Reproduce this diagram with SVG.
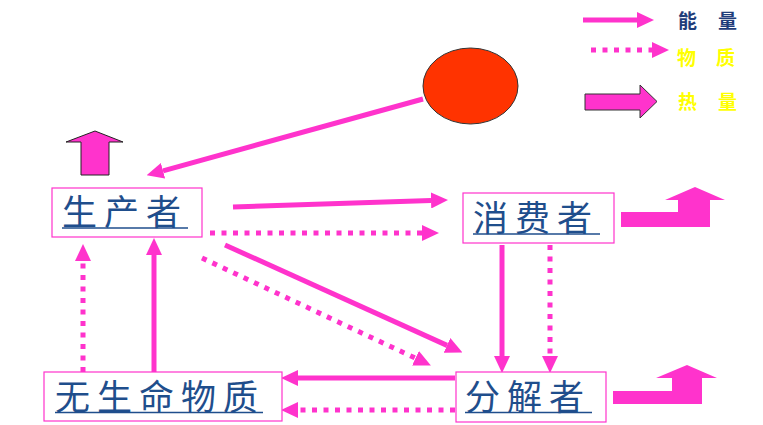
<svg xmlns="http://www.w3.org/2000/svg" width="763" height="425" viewBox="0 0 763 425">
<style>
.box{fill:#fff;stroke:#FF33CC;stroke-width:1.2}
.lbl{font-family:"Noto Sans CJK SC","Noto Sans CJK JP",sans-serif;font-size:35px;letter-spacing:7px;fill:#1F4E8C}
.ul{stroke:#1F4E8C;stroke-width:1.6}
.sol{stroke:#FF33CC;stroke-width:5;fill:none;marker-end:url(#ah)}
.dot{stroke:#FF33CC;stroke-width:5;fill:none;stroke-dasharray:5 6.5;marker-end:url(#ah)}
.blk{fill:#FF33CC}
.leg{font-family:"Noto Sans CJK SC","Noto Sans CJK JP",sans-serif;font-size:19px;font-weight:bold}
</style>
<defs>
<marker id="ah" markerUnits="userSpaceOnUse" markerWidth="17" markerHeight="16" refX="0" refY="8" orient="auto" viewBox="0 0 17 16">
<path d="M0,0L17,8L0,16z" fill="#FF33CC"/>
</marker>
</defs>
<rect width="763" height="425" fill="#fff"/>

<g id="legend">
<line x1="583" y1="20" x2="637" y2="20" class="sol"/>
<text x="678" y="28" class="leg" fill="#1F3D7A" textLength="59" lengthAdjust="spacing">能量</text>
<line x1="591" y1="50" x2="652" y2="50" class="dot" stroke-dasharray="5 7"/>
<text x="677" y="65" class="leg" fill="#FFFF00" textLength="58" lengthAdjust="spacing">物质</text>
<polygon points="585,94 640,94 640,85 657,101.5 640,118 640,110 585,110" fill="#FF33CC" stroke="#333" stroke-width="1"/>
<text x="678" y="109" class="leg" fill="#FFFF00" textLength="59" lengthAdjust="spacing">热量</text>
</g>

<g id="sun">
<ellipse cx="470.5" cy="86" rx="47.5" ry="38" fill="#FF3300" stroke="#333" stroke-width="1"/>
</g>

<g id="connectors">
<line x1="423" y1="99" x2="163" y2="170.8" class="sol"/>
<line x1="233" y1="207" x2="431" y2="200.5" class="sol"/>
<line x1="210" y1="233" x2="422" y2="233" class="dot" stroke-dasharray="5 7"/>
<line x1="225" y1="245" x2="447" y2="345.4" class="sol" stroke-width="6"/>
<line x1="202" y1="258" x2="415.5" y2="358.2" class="dot" stroke-dasharray="7 8"/>
<line x1="502" y1="245" x2="502" y2="356" class="sol" stroke-width="6"/>
<line x1="550" y1="245" x2="550" y2="356" class="dot" stroke-dasharray="5 4.5"/>
<line x1="455" y1="378" x2="298" y2="378" class="sol"/>
<line x1="455" y1="410" x2="298" y2="410" class="dot" stroke-dasharray="5 6"/>
<line x1="154" y1="372" x2="154" y2="255" class="sol" stroke-width="6"/>
<line x1="83" y1="372" x2="83" y2="261" class="dot" stroke-dasharray="5 4.5"/>
</g>

<g id="heat">
<polygon points="81,175 81,142 66,142 95,131 123,142 109,142 109,175" fill="#FF33CC" stroke="#222" stroke-width="1"/>
<polygon class="blk" points="621,212 678,212 678,200 665,200 695,187 725,200 710,200 710,227 621,227"/>
<polygon class="blk" points="613,391 672,391 672,378 656,378 687,365 717,378 702,378 702,404 613,404"/>
</g>

<g id="producer">
<rect class="box" x="52" y="188" width="150" height="49"/>
<text class="lbl" x="62" y="225">生产者</text>
<line class="ul" x1="62" y1="228" x2="188" y2="228"/>
</g>

<g id="consumer">
<rect class="box" x="463" y="193" width="151" height="50"/>
<text class="lbl" x="473" y="231">消费者</text>
<line class="ul" x1="473" y1="234" x2="600" y2="234"/>
</g>

<g id="decomposer">
<rect class="box" x="456" y="372" width="150" height="50"/>
<text class="lbl" x="465" y="410">分解者</text>
<line class="ul" x1="465" y1="412.5" x2="592" y2="412.5"/>
</g>

<g id="abiotic">
<rect class="box" x="44" y="372" width="238" height="49"/>
<text class="lbl" x="55" y="410">无生命物质</text>
<line class="ul" x1="55" y1="412.5" x2="263" y2="412.5"/>
</g>
</svg>
